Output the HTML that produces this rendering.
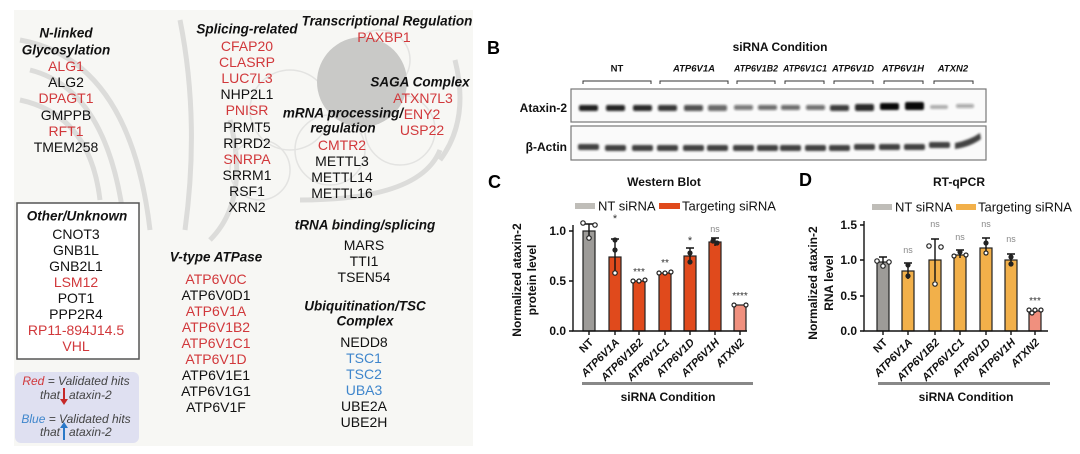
<!DOCTYPE html>
<html><head><meta charset="utf-8"><style>
html,body{margin:0;padding:0;background:#fff;}
svg{display:block;font-family:"Liberation Sans",Arial,sans-serif;}
.h{font-weight:bold;font-style:italic;font-size:13.5px;fill:#111;}
.g{font-size:14px;fill:#111;}
.r{fill:#d1383b;}
.b{fill:#3f86cc;}
.ax{font-weight:bold;font-size:12px;fill:#111;}
.tk{font-weight:bold;font-style:italic;font-size:11px;fill:#111;}
.lg{font-size:13px;fill:#111;}
.bl{font-weight:bold;font-size:9.5px;fill:#111;}
</style></head><body>
<svg width="1080" height="454" viewBox="0 0 1080 454" xmlns="http://www.w3.org/2000/svg">
<defs>
<filter id="bl" x="-20%" y="-100%" width="140%" height="300%"><feGaussianBlur stdDeviation="1.1"/></filter>
</defs>
<rect x="14" y="10" width="459" height="436" fill="#f7f7f4"/>
<g fill="none" stroke="#dcdcda" stroke-width="5">
<path d="M20 40 Q130 60 150 230"/>
<path d="M30 70 Q110 90 125 230"/>
<path d="M20 100 Q90 115 100 200"/>
<path d="M180 20 Q200 120 185 230"/>
<path d="M230 120 Q250 200 210 240"/>
<path d="M440 150 Q420 200 300 200"/>
<path d="M455 60 Q470 120 440 160"/>
</g>
<g fill="none" stroke="#e3e3e1" stroke-width="1.5">
<circle cx="290" cy="110" r="40"/><circle cx="330" cy="150" r="35"/><circle cx="400" cy="130" r="35"/>
<circle cx="260" cy="170" r="30"/><circle cx="380" cy="60" r="30"/>
</g>
<circle cx="362" cy="82" r="45" fill="#c9c9c7"/>

<g text-anchor="middle" dominant-baseline="central">
<text class="h" x="66" y="33">N-linked</text>
<text class="h" x="66" y="50">Glycosylation</text>
<text class="g r" x="66" y="66">ALG1</text>
<text class="g" x="66" y="82">ALG2</text>
<text class="g r" x="66" y="98">DPAGT1</text>
<text class="g" x="66" y="115">GMPPB</text>
<text class="g r" x="66" y="131">RFT1</text>
<text class="g" x="66" y="147">TMEM258</text>

<text class="h" x="247" y="29">Splicing-related</text>
<text class="g r" x="247" y="46">CFAP20</text>
<text class="g r" x="247" y="62">CLASRP</text>
<text class="g r" x="247" y="78">LUC7L3</text>
<text class="g" x="247" y="94">NHP2L1</text>
<text class="g r" x="247" y="110">PNISR</text>
<text class="g" x="247" y="127">PRMT5</text>
<text class="g" x="247" y="143">RPRD2</text>
<text class="g r" x="247" y="159">SNRPA</text>
<text class="g" x="247" y="175">SRRM1</text>
<text class="g" x="247" y="191">RSF1</text>
<text class="g" x="247" y="207">XRN2</text>

<text class="h" x="387" y="21">Transcriptional Regulation</text>
<text class="g r" x="384" y="37">PAXBP1</text>
<text class="h" x="420" y="82">SAGA Complex</text>
<text class="g r" x="423" y="98">ATXN7L3</text>
<text class="g r" x="422" y="114">ENY2</text>
<text class="g r" x="422" y="130">USP22</text>

<text class="h" x="343" y="113">mRNA processing/</text>
<text class="h" x="343" y="128">regulation</text>
<text class="g r" x="342" y="145">CMTR2</text>
<text class="g" x="342" y="161">METTL3</text>
<text class="g" x="342" y="177">METTL14</text>
<text class="g" x="342" y="193">METTL16</text>

<text class="h" x="365" y="225">tRNA binding/splicing</text>
<text class="g" x="364" y="245">MARS</text>
<text class="g" x="364" y="261">TTI1</text>
<text class="g" x="364" y="277">TSEN54</text>
<text class="h" x="365" y="306">Ubiquitination/TSC</text>
<text class="h" x="365" y="321">Complex</text>
<text class="g" x="364" y="342">NEDD8</text>
<text class="g b" x="364" y="358">TSC1</text>
<text class="g b" x="364" y="374">TSC2</text>
<text class="g b" x="364" y="390">UBA3</text>
<text class="g" x="364" y="406">UBE2A</text>
<text class="g" x="364" y="422">UBE2H</text>

<text class="h" x="216" y="257">V-type ATPase</text>
<text class="g r" x="216" y="279">ATP6V0C</text>
<text class="g" x="216" y="295">ATP6V0D1</text>
<text class="g r" x="216" y="311">ATP6V1A</text>
<text class="g r" x="216" y="327">ATP6V1B2</text>
<text class="g r" x="216" y="343">ATP6V1C1</text>
<text class="g r" x="216" y="359">ATP6V1D</text>
<text class="g" x="216" y="375">ATP6V1E1</text>
<text class="g" x="216" y="391">ATP6V1G1</text>
<text class="g" x="216" y="407">ATP6V1F</text>
</g>

<rect x="17" y="203" width="122" height="156" fill="#fff" stroke="#555" stroke-width="1.5"/>
<g text-anchor="middle" dominant-baseline="central">
<text class="h" x="77" y="216">Other/Unknown</text>
<text class="g" x="76" y="234">CNOT3</text>
<text class="g" x="76" y="250">GNB1L</text>
<text class="g" x="76" y="266">GNB2L1</text>
<text class="g r" x="76" y="282">LSM12</text>
<text class="g" x="76" y="298">POT1</text>
<text class="g" x="76" y="314">PPP2R4</text>
<text class="g r" x="76" y="330">RP11-894J14.5</text>
<text class="g r" x="76" y="346">VHL</text>
</g>
<rect x="15" y="372" width="124" height="71" rx="6" fill="#dfe0f1"/>
<g font-style="italic" font-size="12" fill="#444" dominant-baseline="central">
<text x="76" y="381" text-anchor="middle"><tspan fill="#d1383b">Red</tspan> = Validated hits</text>
<text x="60" y="395" text-anchor="end">that</text>
<text x="69" y="395">ataxin-2</text>
<text x="76" y="419" text-anchor="middle"><tspan fill="#3f86cc">Blue</tspan> = Validated hits</text>
<text x="60" y="432" text-anchor="end">that</text>
<text x="69" y="432">ataxin-2</text>
</g>
<line x1="64" y1="388" x2="64" y2="400" stroke="#c62828" stroke-width="2"/><path d="M60 399 L68 399 L64 405 Z" fill="#c62828"/>
<line x1="64" y1="427" x2="64" y2="440" stroke="#2a78c8" stroke-width="2"/><path d="M60 428 L68 428 L64 422 Z" fill="#2a78c8"/>

<!-- PANEL B -->
<text x="487" y="48" font-size="18" font-weight="bold" dominant-baseline="central">B</text>
<text x="780" y="47" class="ax" text-anchor="middle" dominant-baseline="central">siRNA Condition</text>
<g class="bl" text-anchor="middle" dominant-baseline="central">
<text x="617" y="69" font-style="normal">NT</text>
<text x="694" y="69" font-style="italic">ATP6V1A</text>
<text x="756" y="69" font-style="italic" textLength="44" lengthAdjust="spacingAndGlyphs">ATP6V1B2</text>
<text x="805" y="69" font-style="italic" textLength="44" lengthAdjust="spacingAndGlyphs">ATP6V1C1</text>
<text x="853" y="69" font-style="italic" textLength="42" lengthAdjust="spacingAndGlyphs">ATP6V1D</text>
<text x="903" y="69" font-style="italic" textLength="42" lengthAdjust="spacingAndGlyphs">ATP6V1H</text>
<text x="953" y="69" font-style="italic">ATXN2</text>
</g>
<g fill="none" stroke="#333" stroke-width="1">
<path d="M583 84 V81 H651 V84"/><path d="M660 84 V81 H728 V84"/><path d="M737 84 V81 H775 V84"/>
<path d="M785 84 V81 H824 V84"/><path d="M834 84 V81 H873 V84"/><path d="M884 84 V81 H923 V84"/><path d="M934 84 V81 H973 V84"/>
</g>
<rect x="571" y="89" width="415" height="33" fill="#fafafa" stroke="#777" stroke-width="1.2"/>
<rect x="571" y="126" width="415" height="34" fill="#fafafa" stroke="#777" stroke-width="1.2"/>
<text x="567" y="108" class="ax" font-size="13" text-anchor="end" dominant-baseline="central">Ataxin-2</text>
<text x="567" y="147" class="ax" font-size="13" text-anchor="end" dominant-baseline="central">β-Actin</text>
<g filter="url(#bl)">
<rect x="579" y="105" width="19" height="6" rx="2" fill="#111" opacity="0.92"/>
<rect x="606" y="105" width="19" height="6" rx="2" fill="#111" opacity="0.9"/>
<rect x="633" y="105" width="19" height="6" rx="2" fill="#111" opacity="0.88"/>
<rect x="658" y="105" width="19" height="6" rx="2" fill="#111" opacity="0.82"/>
<rect x="684" y="105" width="19" height="6" rx="2" fill="#111" opacity="0.72"/>
<rect x="708" y="105" width="19" height="6" rx="2" fill="#111" opacity="0.62"/>
<rect x="734" y="105" width="19" height="5" rx="2" fill="#111" opacity="0.55"/>
<rect x="758" y="105" width="19" height="5" rx="2" fill="#111" opacity="0.6"/>
<rect x="781" y="105" width="19" height="5" rx="2" fill="#111" opacity="0.6"/>
<rect x="806" y="105" width="19" height="5" rx="2" fill="#111" opacity="0.58"/>
<rect x="830" y="105" width="19" height="6" rx="2" fill="#111" opacity="0.8"/>
<rect x="855" y="104" width="19" height="7" rx="2" fill="#111" opacity="0.88"/>
<rect x="880" y="103" width="19" height="7" rx="2" fill="#000" opacity="0.97"/>
<rect x="905" y="102" width="19" height="8" rx="2" fill="#000" opacity="0.97"/>
<rect x="930" y="105" width="18" height="4" rx="2" fill="#111" opacity="0.3"/>
<rect x="956" y="104" width="18" height="4" rx="2" fill="#111" opacity="0.35"/>
</g>
<g filter="url(#bl)" fill="#222" opacity="0.85">
<rect x="578" y="144" width="21" height="6" rx="2"/><rect x="605" y="145" width="21" height="6" rx="2"/>
<rect x="632" y="145" width="21" height="6" rx="2"/><rect x="657" y="145" width="21" height="6" rx="2"/>
<rect x="683" y="145" width="21" height="6" rx="2"/><rect x="707" y="145" width="21" height="6" rx="2"/>
<rect x="733" y="145" width="21" height="6" rx="2"/><rect x="757" y="145" width="21" height="6" rx="2"/>
<rect x="780" y="145" width="21" height="6" rx="2"/><rect x="805" y="145" width="21" height="6" rx="2"/>
<rect x="829" y="145" width="21" height="6" rx="2"/><rect x="854" y="144" width="21" height="6" rx="2"/>
<rect x="879" y="144" width="21" height="6" rx="2"/><rect x="904" y="144" width="21" height="6" rx="2"/>
<rect x="929" y="142" width="21" height="6" rx="2"/><path d="M955 143 Q970 140 980 133 L981 139 Q970 147 955 149 Z"/>
</g>

<!-- PANEL C -->
<text x="488" y="182" font-size="18" font-weight="bold" dominant-baseline="central">C</text>
<text x="664" y="182" class="ax" font-size="13" text-anchor="middle" dominant-baseline="central">Western Blot</text>
<rect x="575" y="203" width="20" height="6" fill="#bfbdb8"/>
<text x="598" y="206" class="lg" dominant-baseline="central">NT siRNA</text>
<rect x="659" y="203" width="21" height="6" fill="#e04a1c"/>
<text x="682" y="206" class="lg" dominant-baseline="central">Targeting siRNA</text>
<g transform="translate(525,280) rotate(-90)" text-anchor="middle" class="ax" font-size="13">
<text x="0" y="-4">Normalized ataxin-2</text><text x="0" y="11">protein level</text>
</g>
<g stroke="#222" stroke-width="1.2">
<rect x="583" y="231" width="12" height="100" fill="#9d9b98"/>
<rect x="609" y="257" width="12" height="74" fill="#e04a1c"/>
<rect x="633" y="281" width="12" height="50" fill="#e04a1c"/>
<rect x="659" y="273" width="12" height="58" fill="#e04a1c"/>
<rect x="684" y="256" width="12" height="75" fill="#e04a1c"/>
<rect x="709" y="242" width="12" height="89" fill="#e04a1c"/>
<rect x="734" y="305" width="12" height="26" fill="#f0907e"/>
</g>
<g stroke="#111" stroke-width="1.4" fill="none">
<path d="M573 225 V331 H747"/>
<path d="M569 231 H573 M569 281 H573 M569 331 H573"/>
<path d="M589 331v4M615 331v4M639 331v4M665 331v4M690 331v4M715 331v4M740 331v4"/>
<path d="M589 224V238M585 224H593 M615 239V271M611 239H619 M639 280V282 M665 272V274 M690 248V264M686 248H694 M715 238V246M711 238H719"/>
</g>
<g fill="#fff" stroke="#222" stroke-width="1.2">
<circle cx="583" cy="223" r="2.2"/><circle cx="595" cy="225" r="2.2"/><circle cx="589" cy="238" r="2.2"/>
<circle cx="615" cy="240" r="2" fill="#222"/><circle cx="615" cy="250" r="2" fill="#222"/><circle cx="615" cy="273" r="2.2"/>
<circle cx="633" cy="281" r="2"/><circle cx="639" cy="281" r="2"/><circle cx="645" cy="280" r="2"/>
<circle cx="659" cy="273" r="2"/><circle cx="665" cy="273" r="2"/><circle cx="671" cy="272" r="2"/>
<circle cx="690" cy="253" r="2" fill="#222"/><circle cx="690" cy="262" r="2" fill="#222"/>
<circle cx="713" cy="241" r="2" fill="#222"/><circle cx="717" cy="243" r="2" fill="#222"/>
<circle cx="734" cy="305" r="2"/><circle cx="746" cy="305" r="2"/>
</g>
<g class="ax" text-anchor="end" dominant-baseline="central">
<text x="566" y="231">1.0</text><text x="566" y="281">0.5</text><text x="566" y="331">0.0</text>
</g>
<g text-anchor="middle" font-size="11" fill="#333">
<text x="615" y="222">*</text><text x="639" y="275" font-size="10">***</text><text x="665" y="266" font-size="10">**</text>
<text x="690" y="244">*</text><text x="715" y="232" font-size="9" fill="#888">ns</text><text x="740" y="299" font-size="10">****</text>
</g>
<g class="tk" text-anchor="end">
<text transform="translate(594,343) rotate(-45)" font-style="normal">NT</text>
<text transform="translate(620,343) rotate(-45)">ATP6V1A</text>
<text transform="translate(644,343) rotate(-45)">ATP6V1B2</text>
<text transform="translate(670,343) rotate(-45)">ATP6V1C1</text>
<text transform="translate(695,343) rotate(-45)">ATP6V1D</text>
<text transform="translate(720,343) rotate(-45)">ATP6V1H</text>
<text transform="translate(745,343) rotate(-45)">ATXN2</text>
</g>
<rect x="582" y="382" width="171" height="3" fill="#888"/>
<text x="668" y="397" class="ax" font-size="14" text-anchor="middle" dominant-baseline="central">siRNA Condition</text>

<!-- PANEL D -->
<text x="799" y="180" font-size="18" font-weight="bold" dominant-baseline="central">D</text>
<text x="959" y="182" class="ax" font-size="13" text-anchor="middle" dominant-baseline="central">RT-qPCR</text>
<rect x="872" y="204" width="20" height="6" fill="#bfbdb8"/>
<text x="895" y="207" class="lg" dominant-baseline="central">NT siRNA</text>
<rect x="956" y="204" width="20" height="6" fill="#f2b04a"/>
<text x="978" y="207" class="lg" dominant-baseline="central">Targeting siRNA</text>
<g transform="translate(822,283) rotate(-90)" text-anchor="middle" class="ax" font-size="13">
<text x="0" y="-5">Normalized ataxin-2</text><text x="0" y="11">RNA level</text>
</g>
<g stroke="#222" stroke-width="1.2">
<rect x="877" y="262" width="12" height="69" fill="#9d9b98"/>
<rect x="902" y="271" width="12" height="60" fill="#f2b04a"/>
<rect x="929" y="260" width="12" height="71" fill="#f2b04a"/>
<rect x="954" y="255" width="12" height="76" fill="#f2b04a"/>
<rect x="980" y="248" width="12" height="83" fill="#f2b04a"/>
<rect x="1005" y="260" width="12" height="71" fill="#f2b04a"/>
<rect x="1029" y="311" width="12" height="20" fill="#f0907e"/>
</g>
<g stroke="#111" stroke-width="1.4" fill="none">
<path d="M864 221 V331 H1048"/>
<path d="M860 225 H864 M860 260 H864 M860 296 H864 M860 331 H864"/>
<path d="M883 331v4M908 331v4M935 331v4M960 331v4M986 331v4M1011 331v4M1035 331v4"/>
<path d="M883 257V266M879 257H887 M908 263V279M904 263H912 M935 239V281M931 239H939 M960 250V258M956 250H964 M986 238V254M982 238H990 M1011 254V266M1007 254H1015 M1035 309V313"/>
</g>
<g fill="#fff" stroke="#222" stroke-width="1.2">
<circle cx="877" cy="261" r="2.2"/><circle cx="889" cy="262" r="2.2"/><circle cx="883" cy="266" r="2.2"/>
<circle cx="908" cy="265" r="2" fill="#222"/><circle cx="908" cy="276" r="2" fill="#222"/>
<circle cx="929" cy="246" r="2.2"/><circle cx="941" cy="247" r="2.2"/><circle cx="935" cy="284" r="2.2"/>
<circle cx="954" cy="256" r="2"/><circle cx="960" cy="252" r="2" fill="#222"/><circle cx="966" cy="255" r="2"/>
<circle cx="986" cy="243" r="2" fill="#222"/><circle cx="986" cy="253" r="2"/>
<circle cx="1011" cy="257" r="2" fill="#222"/><circle cx="1011" cy="264" r="2" fill="#222"/>
<circle cx="1029" cy="310" r="2"/><circle cx="1035" cy="310" r="2"/><circle cx="1041" cy="310" r="2"/><circle cx="1032" cy="313" r="2"/>
</g>
<g class="ax" text-anchor="end" dominant-baseline="central">
<text x="857" y="225">1.5</text><text x="857" y="260">1.0</text><text x="857" y="296">0.5</text><text x="857" y="331">0.0</text>
</g>
<g text-anchor="middle" font-size="9" fill="#888">
<text x="908" y="253">ns</text><text x="935" y="227">ns</text><text x="960" y="240">ns</text>
<text x="986" y="227">ns</text><text x="1011" y="242">ns</text><text x="1035" y="304" font-size="10" fill="#333">***</text>
</g>
<g class="tk" text-anchor="end">
<text transform="translate(888,343) rotate(-45)" font-style="normal">NT</text>
<text transform="translate(913,343) rotate(-45)">ATP6V1A</text>
<text transform="translate(940,343) rotate(-45)">ATP6V1B2</text>
<text transform="translate(965,343) rotate(-45)">ATP6V1C1</text>
<text transform="translate(991,343) rotate(-45)">ATP6V1D</text>
<text transform="translate(1016,343) rotate(-45)">ATP6V1H</text>
<text transform="translate(1040,343) rotate(-45)">ATXN2</text>
</g>
<rect x="878" y="382" width="172" height="3" fill="#888"/>
<text x="966" y="397" class="ax" font-size="14" text-anchor="middle" dominant-baseline="central">siRNA Condition</text>
</svg>
</body></html>
